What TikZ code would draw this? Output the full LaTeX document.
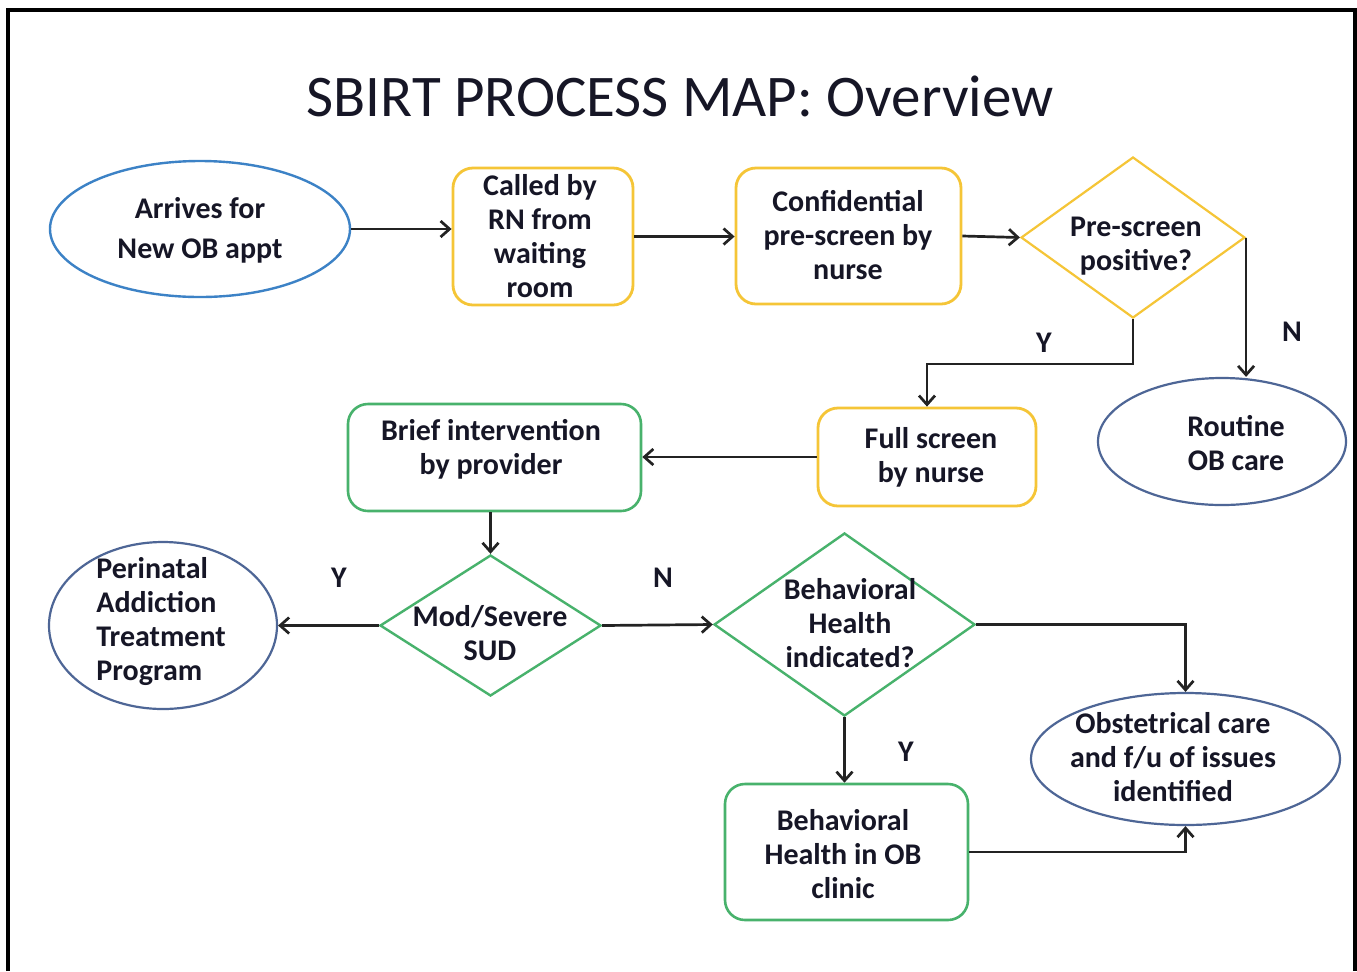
\documentclass[tikz,border=0pt]{standalone}
\usepackage{fontspec}
\setmainfont{Carlito}
\usetikzlibrary{shapes.geometric,arrows.meta}
\definecolor{gold}{RGB}{245,197,55}
\definecolor{grn}{RGB}{72,178,108}
\definecolor{blu1}{RGB}{60,130,198}
\definecolor{blu2}{RGB}{78,102,150}
\definecolor{txt}{RGB}{22,22,38}
\definecolor{arr}{RGB}{35,35,35}
\begin{document}
\begin{tikzpicture}[x=0.5pt,y=-0.5pt,
  lbl/.style={font=\fontsize{15}{17}\selectfont\bfseries, text=txt, align=center, inner sep=0pt},
  yn/.style={font=\fontsize{15}{17}\selectfont\bfseries, text=txt, inner sep=0pt},
  ybox/.style={draw=gold, line width=1.4pt, rounded corners=10pt, inner sep=0pt},
  gbox/.style={draw=grn, line width=1.3pt, rounded corners=10pt, inner sep=0pt},
  ydia/.style={diamond, draw=gold, line width=1.1pt, inner sep=0pt},
  gdia/.style={diamond, draw=grn, line width=1.2pt, inner sep=0pt},
  bell/.style={ellipse, draw=blu1, line width=1.2pt, inner sep=0pt},
  dell/.style={ellipse, draw=blu2, line width=1.1pt, inner sep=0pt},
  conn/.style={draw=arr, line width=1.35pt, -{Straight Barb[length=4.5pt,width=8pt]}}
]
\useasboundingbox (0,0) rectangle (1357,971);
\fill[white] (0,0) rectangle (1357,971);
\draw[line width=1.6pt] (8,971) -- (8,10) -- (1355,10) -- (1355,971);

\node[font=\fontsize{29.5}{34}\selectfont, text=txt, inner sep=0pt] (title) at (680,96) {SBIRT PROCESS MAP: Overview};

% shapes
\node[bell, minimum width=150pt, minimum height=68pt] (arrv) at (200,229) {};
\node[ybox, minimum width=90pt, minimum height=68.5pt] (call) at (543,236.5) {};
\node[ybox, minimum width=112.5pt, minimum height=68pt] (conf) at (848.5,236) {};
\node[ydia, minimum width=112pt, minimum height=80.5pt] (pre) at (1133,237.5) {};
\node[dell, minimum width=124pt, minimum height=63.5pt] (rout) at (1222,441.5) {};
\node[ybox, minimum width=109pt, minimum height=49pt] (full) at (927,457) {};
\node[gbox, minimum width=146.5pt, minimum height=53.5pt] (brief) at (494.5,457.5) {};
\node[gdia, minimum width=110.5pt, minimum height=70.5pt] (sud) at (490.5,625.5) {};
\node[dell, minimum width=114pt, minimum height=83.5pt] (peri) at (163,625.5) {};
\node[gdia, minimum width=130.5pt, minimum height=91.5pt] (bh) at (844.5,624.5) {};
\node[dell, minimum width=154.5pt, minimum height=66pt] (obs) at (1185.5,759) {};
\node[gbox, minimum width=121.5pt, minimum height=68pt] (bhc) at (846.5,852) {};

% texts
\node[lbl, font=\fontsize{15}{20}\selectfont\bfseries] (arrvt) at (200,230) {Arrives for\\New OB appt};
\node[lbl] (callt) at (540,236) {Called by\\RN from\\waiting\\room};
\node[lbl] (conft) at (848,235.5) {Confidential\\pre-screen by\\nurse};
\node[lbl] (pret) at (1136,246) {Pre-screen\\positive?};
\node[lbl] (routt) at (1236,443.5) {Routine\\OB care};
\node[lbl] (fullt) at (931,457) {Full screen\\by nurse};
\node[lbl] (brieft) at (491,449) {Brief intervention\\by provider};
\node[lbl] (sudt) at (490,633) {Mod/Severe\\SUD};
\node[lbl, align=left, anchor=west] (perit) at (96,622) {Perinatal\\Addiction\\Treatment\\Program};
\node[lbl] (bht) at (850,623.5) {Behavioral\\Health\\indicated?};
\node[lbl] (obst) at (1173,757.5) {Obstetrical care\\and f/u of issues\\identified};
\node[lbl] (bhct) at (843,854.5) {Behavioral\\Health in OB\\clinic};

% Y / N labels
\node[yn] (y1) at (1044,343) {Y};
\node[yn] (n1) at (1292,332) {N};
\node[yn] (y2) at (339,578) {Y};
\node[yn] (n2) at (663,578) {N};
\node[yn] (y3) at (906,752) {Y};

% connectors
\draw[conn] (arrv.east) -- (arrv.east -| call.west);
\draw[conn] (call.east) -- (call.east -| conf.west);
\draw[conn] (conf.east) -- (pre.west);
\draw[conn] (pre.east) -- (pre.east |- rout.north);
\draw[conn] (pre.south) -- ++(0,45) -| (full.north);
\draw[conn] (full.west) -- (full.west -| brief.east);
\draw[conn] (sud.north |- brief.south) -- (sud.north);
\draw[conn] (sud.west) -- (peri.east);
\draw[conn] (sud.east) -- (bh.west);
\draw[conn] (bh.east) -| (obs.north);
\draw[conn] (bh.south) -- (bh.south |- bhc.north);
\draw[conn] (bhc.east) -| (obs.south);
\end{tikzpicture}
\end{document}
